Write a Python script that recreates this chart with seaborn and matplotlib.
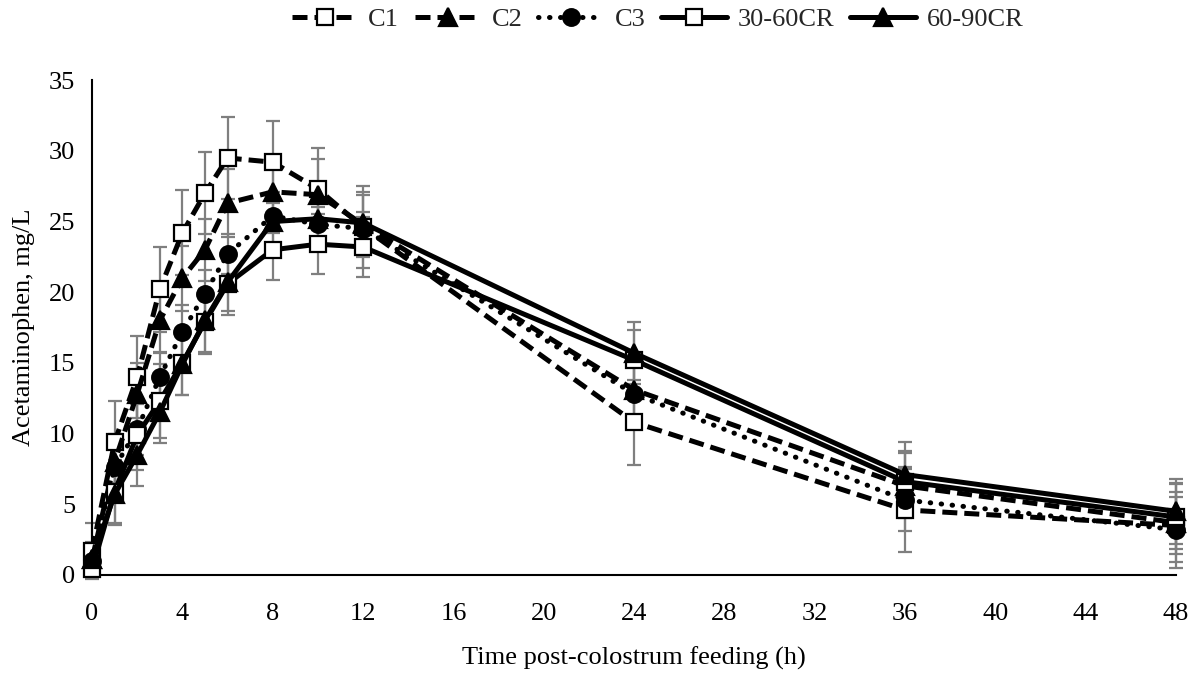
import numpy as np
import pandas as pd
import matplotlib
matplotlib.use("Agg")
import matplotlib.pyplot as plt
import seaborn as sns
from matplotlib.lines import Line2D

sns.set_theme(style="white")
plt.rcParams['font.family'] = ['Liberation Serif', 'DejaVu Serif']

time_h = [0, 1, 2, 3, 4, 5, 6, 8, 10, 12, 24, 36, 48]
series_names = ["C1", "C2", "C3", "30-60CR", "60-90CR"]

c1 = [1.7, 9.4, 14.0, 20.2, 24.2, 27.0, 29.5, 29.2, 27.3, 24.6, 10.8, 4.6, 3.5]
c2 = [1.1, 8.0, 12.8, 18.0, 21.0, 23.0, 26.3, 27.1, 26.9, 24.8, 13.1, 6.3, 3.7]
c3 = [1.0, 7.6, 10.3, 14.0, 17.2, 19.9, 22.7, 25.4, 24.8, 24.5, 12.8, 5.3, 3.2]
cr30_60 = [0.4, 5.9, 9.9, 12.3, 15.0, 17.9, 20.6, 23.0, 23.4, 23.2, 15.2, 6.6, 4.1]
cr60_90 = [1.1, 5.7, 8.5, 11.5, 14.9, 18.0, 20.7, 25.0, 25.2, 24.9, 15.7, 7.1, 4.5]

err_c1 = [2.0, 2.9, 2.9, 3.0, 3.0, 2.9, 2.9, 2.9, 2.9, 2.9, 3.0, 3.0, 3.0]
err_c2 = [1.2, 2.0, 2.2, 2.3, 2.3, 2.2, 2.4, 2.5, 2.5, 2.3, 2.2, 2.3, 2.2]
err_c3 = [1.0, 1.8, 1.8, 1.8, 1.9, 1.7, 1.4, 1.2, 1.2, 1.2, 2.0, 2.2, 2.3]
err_cr30_60 = [0.5, 2.2, 2.5, 2.6, 2.3, 2.3, 2.2, 2.1, 2.1, 2.1, 2.1, 2.2, 2.3]
err_cr60_90 = [0.8, 2.2, 2.2, 2.2, 2.2, 2.2, 2.0, 2.1, 2.0, 2.0, 2.2, 2.3, 2.3]

values = [c1, c2, c3, cr30_60, cr60_90]
errors = [err_c1, err_c2, err_c3, err_cr30_60, err_cr60_90]

styles = {
    "C1": dict(dashes=(3, 1.4), marker="s", mfc="white", ms=12),
    "C2": dict(dashes=(3, 1.4), marker="^", mfc="black", ms=13),
    "C3": dict(dashes=(0.1, 2.1), marker="o", mfc="black", ms=12),
    "30-60CR": dict(dashes=None, marker="s", mfc="white", ms=12),
    "60-90CR": dict(dashes=None, marker="^", mfc="black", ms=13),
}
LW = 3.6
FS = 19

fig = plt.figure(figsize=(12, 6.74), dpi=100)
ax = fig.add_axes([0.0767, 0.147, 0.9033, 0.734])

handles = []
for name, y, e in zip(series_names, values, errors):
    st = styles[name]
    ax.errorbar(time_h, y, yerr=e, fmt="none", ecolor="#7f7f7f",
                elinewidth=1.6, capsize=5, capthick=1.6, zorder=1, clip_on=False)
    df = pd.DataFrame({"t": time_h, "v": y})
    sns.lineplot(data=df, x="t", y="v", ax=ax, color="black", lw=LW,
                 marker=st["marker"], markersize=st["ms"],
                 markerfacecolor=st["mfc"], markeredgecolor="black",
                 markeredgewidth=1.6, zorder=3, legend=False, clip_on=False)
    line = ax.lines[-1]
    if st["dashes"] is not None:
        line.set_dashes(st["dashes"])
        if name == "C3":
            line.set_dash_capstyle("round")
    h = Line2D([], [], color="black", lw=LW, marker=st["marker"],
               markersize=st["ms"], markerfacecolor=st["mfc"],
               markeredgecolor="black", markeredgewidth=1.6)
    if st["dashes"] is not None:
        h.set_dashes(st["dashes"])
        if name == "C3":
            h.set_dash_capstyle("round")
    handles.append(h)

ax.set_xlim(0, 48)
ax.set_ylim(0, 35)
ax.set_xticks([0, 4, 8, 12, 16, 20, 24, 28, 32, 36, 40, 44, 48])
ax.set_yticks([0, 5, 10, 15, 20, 25, 30, 35])
ax.tick_params(axis="both", labelsize=FS, length=0, colors="black")
ax.tick_params(axis="x", pad=20)
ax.tick_params(axis="y", pad=12)
ax.set_xlabel("Time post-colostrum feeding (h)", fontsize=FS, color="black", labelpad=16)
ax.set_ylabel("Acetaminophen, mg/L", fontsize=FS, color="black", labelpad=10)
for side in ["top", "right"]:
    ax.spines[side].set_visible(False)
for side in ["left", "bottom"]:
    ax.spines[side].set_color("black")
    ax.spines[side].set_linewidth(1.5)

fig.legend(handles, series_names, loc="upper center", bbox_to_anchor=(0.548, 1.024),
           ncol=5, frameon=False, fontsize=FS, handlelength=2.5,
           columnspacing=0.6, handletextpad=0.4)

fig.savefig("out.png", dpi=100)
